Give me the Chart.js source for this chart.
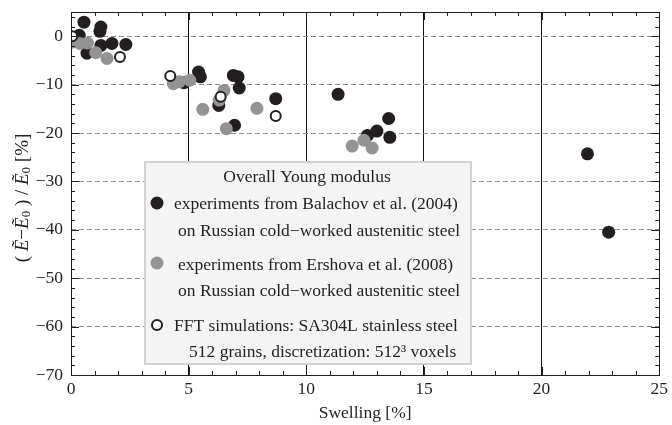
<!DOCTYPE html>
<html>
<head>
<meta charset="utf-8">
<script src="https://cdn.jsdelivr.net/npm/chart.js@4.4.0/dist/chart.umd.min.js"></script>
<style>
    html, body { margin: 0; padding: 0; background: #fff; }
    #wrap { width: 672px; height: 425px; }
</style>
</head>
<body>
<div id="wrap"><canvas id="chart" width="672" height="425"></canvas></div>
<script>
// swelling [%] vs. relative change of the Young modulus [%]
const balachovSwelling = [0.55, 0.35, 1.27, 1.23, 0.68, 1.27, 1.74, 2.33, 4.8, 5.42, 5.5, 6.9, 7.1, 7.15, 6.28, 6.95, 8.7, 11.35, 12.6, 13.0, 13.5, 13.55, 21.95, 22.85];
const balachovChange = [2.9, 0.2, 1.9, 1.0, -3.5, -1.9, -1.5, -1.7, -9.6, -7.4, -8.4, -8.1, -8.4, -10.7, -14.3, -18.4, -12.9, -12.0, -20.5, -19.6, -17.0, -20.9, -24.3, -40.5];

const ershovaSwelling = [0.08, 0.38, 0.7, 1.05, 1.53, 4.35, 4.6, 5.05, 5.6, 6.5, 6.3, 6.6, 7.9, 11.95, 12.45, 12.8];
const ershovaChange = [-1.2, -1.5, -1.4, -3.4, -4.6, -9.8, -9.4, -9.1, -15.1, -11.2, -13.2, -19.1, -14.9, -22.7, -21.5, -23.1];

const fftSwelling = [0.05, 2.08, 4.22, 6.36, 8.7];
const fftChange = [0, -4.3, -8.2, -12.5, -16.5];

const xTickValues = [0, 5, 10, 15, 20, 25];
const yTickValues = [0, -10, -20, -30, -40, -50, -60, -70];

const legendTitle = 'Overall Young modulus';
const legendLines = [
    ['experiments from Balachov et al. (2004)', 'on Russian cold\u2212worked austenitic steel'],
    ['experiments from Ershova et al. (2008)', 'on Russian cold\u2212worked austenitic steel'],
    ['FFT simulations: SA304L stainless steel', '512 grains, discretization: 512\u00b3 voxels']
];

const serif = '"Liberation Serif", "DejaVu Serif", serif';
const ink = '#231f20';
const darkDot = '#231f20';
const greyDot = '#939393';

function toPoints(xs, ys) {
    return xs.map((x, i) => ({ x: x, y: ys[i] }));
}

// frame with inward ticks on all four sides (Mathematica style)
const frameTicks = {
    id: 'frameTicks',
    afterDatasetsDraw(chart) {
        const { ctx, chartArea: a, scales: { x, y } } = chart;
        ctx.save();
        ctx.strokeStyle = ink;
        ctx.lineWidth = 1;
        ctx.beginPath();
        for (let v = 0; v <= 25; v += 1) {
            const px = Math.round(x.getPixelForValue(v)) + 0.5;
            const len = v % 5 === 0 ? 8 : 4;
            ctx.moveTo(px, a.bottom); ctx.lineTo(px, a.bottom - len);
            ctx.moveTo(px, a.top); ctx.lineTo(px, a.top + len);
        }
        for (let v = -70; v <= 4; v += 2) {
            const py = Math.round(y.getPixelForValue(v)) + 0.5;
            const len = v % 10 === 0 ? 8 : 4;
            ctx.moveTo(a.left, py); ctx.lineTo(a.left + len, py);
            ctx.moveTo(a.right, py); ctx.lineTo(a.right - len, py);
        }
        ctx.stroke();
        ctx.strokeRect(Math.round(a.left) + 0.5, Math.round(a.top) + 0.5, Math.round(a.right - a.left), Math.round(a.bottom - a.top));
        ctx.restore();
    }
};

// boxed legend with a title and two-line entries
const legendBox = {
    id: 'legendBox',
    afterDraw(chart) {
        const ctx = chart.ctx;
        ctx.save();
        ctx.fillStyle = '#f4f4f4';
        ctx.strokeStyle = '#d2d2d2';
        ctx.lineWidth = 2;
        ctx.fillRect(145, 162, 326, 202);
        ctx.strokeRect(145, 162, 326, 202);

        ctx.fillStyle = ink;
        ctx.font = '17.5px ' + serif;
        ctx.textBaseline = 'middle';
        ctx.textAlign = 'center';
        ctx.fillText(legendTitle, 307, 177);

        ctx.textAlign = 'left';
        const rows = [
            { my: 203, lines: [[174, 204], [178, 231]] },
            { my: 263, lines: [[178, 265], [178, 291]] },
            { my: 325, lines: [[174, 326], [189, 352]] }
        ];
        rows.forEach((r, i) => {
            ctx.beginPath();
            if (i === 2) {
                ctx.arc(157, r.my, 5, 0, Math.PI * 2);
                ctx.fillStyle = '#fff';
                ctx.fill();
                ctx.lineWidth = 2;
                ctx.strokeStyle = ink;
                ctx.stroke();
            } else {
                ctx.arc(157, r.my, 6.5, 0, Math.PI * 2);
                ctx.fillStyle = i === 0 ? darkDot : greyDot;
                ctx.fill();
            }
            ctx.fillStyle = ink;
            r.lines.forEach((p, j) => ctx.fillText(legendLines[i][j], p[0], p[1]));
        });
        ctx.restore();
    }
};

// rotated y title with italic E-tilde and subscripts
const yTitle = {
    id: 'yTitle',
    afterDraw(chart) {
        const ctx = chart.ctx;
        const normal = '19px ' + serif;
        const italic = 'italic 19px ' + serif;
        const small = '13px ' + serif;
        const parts = [
            ['( ', normal, 0], ['\u1ebc', italic, 0], ['\u2212', normal, 0], ['\u1ebc', italic, 0], ['0', small, 4],
            [' ) / ', normal, 0], ['\u1ebc', italic, 0], ['0', small, 4], [' [%]', normal, 0]
        ];
        ctx.save();
        ctx.translate(23, 198);
        ctx.rotate(-Math.PI / 2);
        ctx.fillStyle = ink;
        ctx.textBaseline = 'middle';
        ctx.textAlign = 'left';
        let total = 0;
        parts.forEach(p => { ctx.font = p[1]; total += ctx.measureText(p[0]).width; });
        let cx = -total / 2;
        parts.forEach(p => {
            ctx.font = p[1];
            ctx.fillText(p[0], cx, p[2]);
            cx += ctx.measureText(p[0]).width;
        });
        ctx.restore();
    }
};

const minus = v => String(v).replace('-', '\u2212');

new Chart(document.getElementById('chart'), {
    type: 'scatter',
    data: {
        datasets: [
            {
                label: 'FFT simulations',
                data: toPoints(fftSwelling, fftChange),
                pointRadius: 5,
                pointBackgroundColor: '#fff',
                pointBorderColor: ink,
                pointBorderWidth: 2,
                clip: 0,
                order: 0
            },
            {
                label: 'Ershova et al. (2008)',
                data: toPoints(ershovaSwelling, ershovaChange),
                pointRadius: 6.5,
                pointBackgroundColor: greyDot,
                pointBorderWidth: 0,
                clip: 0,
                order: 1
            },
            {
                label: 'Balachov et al. (2004)',
                data: toPoints(balachovSwelling, balachovChange),
                pointRadius: 6.5,
                pointBackgroundColor: darkDot,
                pointBorderWidth: 0,
                clip: 0,
                order: 2
            }
        ]
    },
    options: {
        responsive: false,
        animation: false,
        devicePixelRatio: 1,
        layout: { padding: { top: 12, right: 12, left: 0, bottom: 0 } },
        plugins: {
            legend: { display: false },
            tooltip: { enabled: false }
        },
        scales: {
            x: {
                type: 'linear',
                min: 0,
                max: 25,
                afterFit: s => { s.height = 50; },
                afterBuildTicks: s => { s.ticks = xTickValues.map(v => ({ value: v })); },
                grid: {
                    drawTicks: false,
                    color: c => (c.tick && c.tick.value > 0 && c.tick.value < 25) ? '#111' : 'rgba(0,0,0,0)',
                    lineWidth: 1
                },
                border: { display: false },
                ticks: {
                    padding: 4,
                    color: ink,
                    font: { family: serif, size: 17.5 },
                    maxRotation: 0
                },
                title: {
                    display: true,
                    text: 'Swelling [%]',
                    color: ink,
                    font: { family: serif, size: 17.5 },
                    padding: { top: 0, bottom: 1 }
                }
            },
            y: {
                type: 'linear',
                min: -70,
                max: 5,
                afterFit: s => {
                    s.width = 71;
                    // tick labels sit well inside the range, no extra room needed
                    s.paddingTop = 0;
                    s.paddingBottom = 0;
                },
                afterBuildTicks: s => { s.ticks = yTickValues.map(v => ({ value: v })); },
                grid: {
                    drawTicks: false,
                    color: c => (c.tick && c.tick.value > -70) ? '#8c8c8c' : 'rgba(0,0,0,0)',
                    lineWidth: 1
                },
                border: { display: false, dash: [5, 3] },
                ticks: {
                    padding: 8,
                    color: ink,
                    font: { family: serif, size: 17.5 },
                    callback: v => minus(v)
                }
            }
        }
    },
    plugins: [frameTicks, legendBox, yTitle]
});
</script>
</body>
</html>
